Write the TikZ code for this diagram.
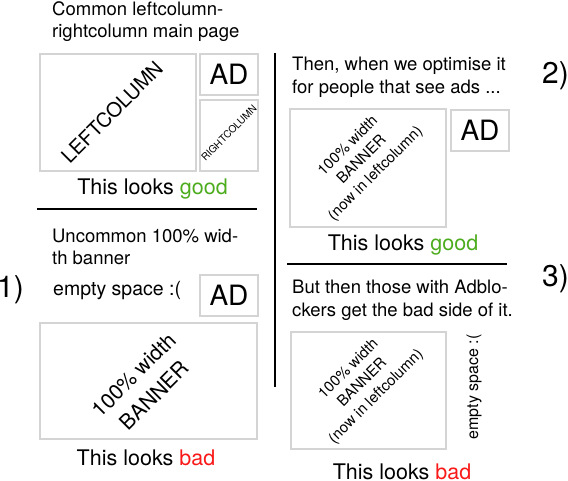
\documentclass[tikz,border=0pt]{standalone}
\usepackage{fontspec}
\setmainfont{TeX Gyre Heros}
\definecolor{goodgreen}{RGB}{77,172,30}
\definecolor{badred}{RGB}{250,25,25}
\definecolor{boxgray}{RGB}{212,212,212}
\tikzset{
  pbox/.style={draw=boxgray, line width=1.2pt, inner sep=0pt, rectangle},
  adtext/.style={font=\fontsize{28}{30}\selectfont},
  desc/.style={anchor=base west, inner sep=0pt, font=\fontsize{18.5}{22}\selectfont},
  verdict/.style={anchor=base, inner sep=0pt, font=\fontsize{21.5}{24}\selectfont},
  numlabel/.style={anchor=base west, inner sep=0pt, font=\fontsize{30}{32}\selectfont},
  sepline/.style={line width=1.8pt, black},
}
\begin{document}
\begin{tikzpicture}[x=1pt,y=-1pt]
\useasboundingbox (0,0) rectangle (568,480);

% ---- panel 1 (top left)
\node[desc] (t1a) at (52,15.3) {Common leftcolumn-};
\node[desc] (t1b) at (52,37.3) {rightcolumn main page};
\node[pbox, minimum width=156pt, minimum height=117pt] (lcol) at (118,112.5) {};
\node[rotate=45, font=\fontsize{20}{22}\selectfont, inner sep=0pt] (lcoltxt) at (112,112) {LEFTCOLUMN};
\node[pbox, minimum width=58pt, minimum height=41pt, adtext] (ad1) at (229,74.5) {AD};
\node[pbox, minimum width=58pt, minimum height=71pt] (rcol) at (229,135.5) {};
\node[rotate=45, font=\fontsize{10}{12}\selectfont, inner sep=0pt] (rcoltxt) at (229,133) {RIGHTCOLUMN};
\node[verdict] (v1) at (152.5,194) {This looks \textcolor{goodgreen}{good}};

\coordinate (h1a) at (37,209);
\coordinate (h1b) at (257,209);
\draw[sepline] (h1a) -- (h1b);

% ---- panel 1 (bottom left)
\node[desc] (t2a) at (52,242) {Uncommon 100\% wid-};
\node[desc] (t2b) at (52,264) {th banner};
\node[numlabel] (n1) at (-3,297) {1)};
\node[desc, font=\fontsize{19.5}{22}\selectfont] (es1) at (53,295) {empty space :(};
\node[pbox, minimum width=58pt, minimum height=41pt, adtext] (ad2) at (229,295.5) {AD};
\node[pbox, minimum width=217pt, minimum height=116pt] (ban1) at (148.5,381) {};
\node[rotate=45, align=center, inner sep=0pt, font=\fontsize{21}{29}\selectfont] (ban1txt) at (144,385) {100\% width\\BANNER};
\node[verdict] (v2) at (146,465.7) {This looks \textcolor{badred}{bad}};

% ---- vertical divider
\coordinate (va) at (275,53);
\coordinate (vb) at (275,387);
\draw[sepline] (va) -- (vb);

% ---- panel 2 (top right)
\node[desc] (t3a) at (292,70) {Then, when we optimise it};
\node[desc] (t3b) at (292,93.3) {for people that see ads ...};
\node[numlabel] (n2) at (542,83.5) {2)};
\node[pbox, minimum width=156pt, minimum height=118pt] (ban2) at (368,168) {};
\node[rotate=45, align=center, inner sep=0pt, font=\fontsize{15}{19.5}\selectfont] (ban2txt) at (362,160) {100\% width\\BANNER\\(now in leftcolumn)};
\node[pbox, minimum width=58pt, minimum height=41pt, adtext] (ad3) at (480,130.5) {AD};
\node[verdict] (v3) at (403,250) {This looks \textcolor{goodgreen}{good}};

\coordinate (h2a) at (287,264);
\coordinate (h2b) at (507,264);
\draw[sepline] (h2a) -- (h2b);

% ---- panel 3 (bottom right)
\node[desc] (t4a) at (292,293.3) {But then those with Adblo-};
\node[desc] (t4b) at (292,316.7) {ckers get the bad side of it.};
\node[numlabel] (n3) at (542,286.7) {3)};
\node[pbox, minimum width=155pt, minimum height=117pt] (ban3) at (368.5,390.5) {};
\node[rotate=45, align=center, inner sep=0pt, font=\fontsize{15}{19.5}\selectfont] (ban3txt) at (362.5,383) {100\% width\\BANNER\\(now in leftcolumn)};
\node[rotate=90, inner sep=0pt, font=\fontsize{16}{18}\selectfont] (es2) at (474,387) {empty space :(};
\node[verdict] (v4) at (402,479) {This looks \textcolor{badred}{bad}};
\end{tikzpicture}
\end{document}
